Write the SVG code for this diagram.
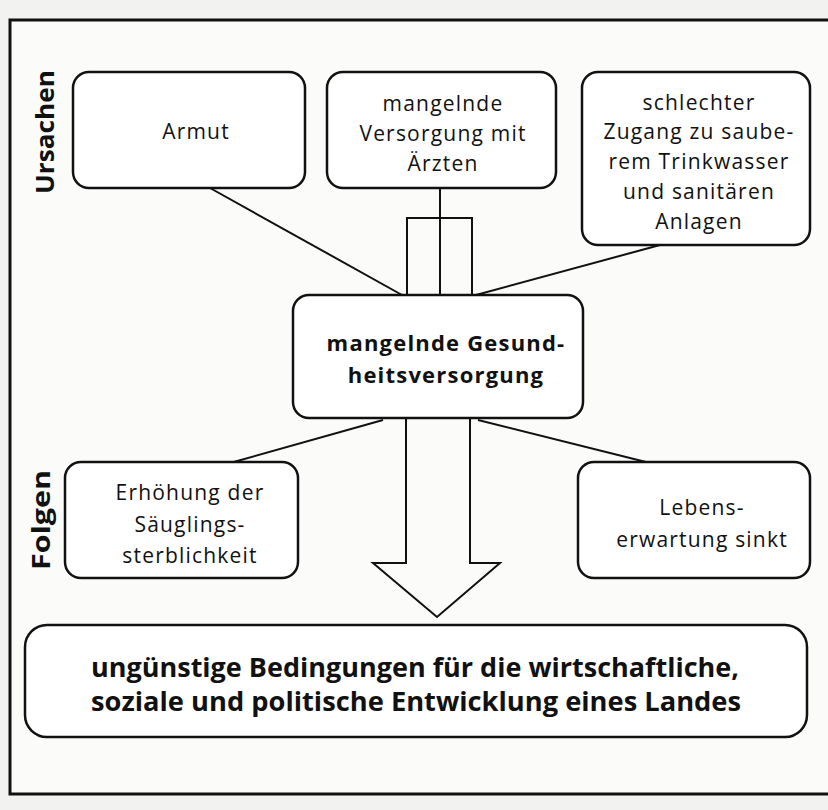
<svg xmlns="http://www.w3.org/2000/svg" width="828" height="810" viewBox="0 0 828 810">
<style>
.box{fill:#fff;stroke:#111;stroke-width:2.5}
.ln{stroke:#111;stroke-width:2;fill:none}
.t{font-family:"Open Sans","Noto Sans",sans-serif;font-size:21px;letter-spacing:1.2px;fill:#111;text-anchor:middle}
.b{font-family:"Open Sans","Noto Sans",sans-serif;font-size:22px;letter-spacing:1.2px;font-weight:bold;fill:#111;text-anchor:middle}
.bb{font-family:"Open Sans","Noto Sans",sans-serif;font-size:27px;font-weight:bold;fill:#111;text-anchor:middle}
.lbl{font-family:"Open Sans","Noto Sans",sans-serif;font-size:25px;font-weight:bold;fill:#111;text-anchor:middle}
</style>
<rect width="828" height="810" fill="#f2f2f0"/>
<rect x="10" y="20" width="830" height="774" fill="#fbfbfa" stroke="#111" stroke-width="3"/>
<text class="lbl" transform="translate(54,132) rotate(-90)" textLength="124" lengthAdjust="spacingAndGlyphs">Ursachen</text>
<text class="lbl" transform="translate(50,520) rotate(-90)" textLength="100" lengthAdjust="spacingAndGlyphs">Folgen</text>
<g id="connectors">
<line class="ln" x1="210" y1="188" x2="402" y2="295"/>
<line class="ln" x1="660" y1="245" x2="476" y2="295"/>
<rect class="ln" x="407" y="218" width="65" height="77" fill="#fff"/>
<line class="ln" x1="440" y1="188" x2="440" y2="295"/>
<line class="ln" x1="383" y1="420" x2="230" y2="463"/>
<line class="ln" x1="478" y1="420" x2="650" y2="463"/>
<polygon class="ln" fill="#fff" points="406,418 470,418 470,563 500,563 437,617 373,563 406,563"/>
</g>
<g id="armut"><rect class="box" x="73" y="72" width="232" height="116" rx="16"/><text class="t" x="196" y="139">Armut</text></g>
<g id="aerzte"><rect class="box" x="327" y="72" width="229" height="116" rx="16"/><text class="t" x="443" y="111">mangelnde</text><text class="t" x="443" y="141">Versorgung mit</text><text class="t" x="443" y="171">Ärzten</text></g>
<g id="wasser"><rect class="box" x="582" y="72" width="228" height="173" rx="16"/><text class="t" x="699" y="110">schlechter</text><text class="t" x="699" y="139">Zugang zu saube-</text><text class="t" x="699" y="169">rem Trinkwasser</text><text class="t" x="699" y="199">und sanitären</text><text class="t" x="699" y="229">Anlagen</text></g>
<g id="gesund"><rect class="box" x="293" y="295" width="290" height="123" rx="16"/><text class="b" x="446" y="351">mangelnde Gesund-</text><text class="b" x="446" y="383">heitsversorgung</text></g>
<g id="saeugling"><rect class="box" x="65" y="462" width="233" height="116" rx="16"/><text class="t" x="190" y="500">Erhöhung der</text><text class="t" x="190" y="532">Säuglings-</text><text class="t" x="190" y="563">sterblichkeit</text></g>
<g id="leben"><rect class="box" x="578" y="462" width="232" height="116" rx="16"/><text class="t" x="702" y="515">Lebens-</text><text class="t" x="702" y="547">erwartung sinkt</text></g>
<g id="folge"><rect class="box" x="25" y="625" width="782" height="112" rx="22" stroke-width="4"/><text class="bb" x="415" y="677" textLength="648" lengthAdjust="spacingAndGlyphs">ungünstige Bedingungen für die wirtschaftliche,</text><text class="bb" x="416" y="711" textLength="650" lengthAdjust="spacingAndGlyphs">soziale und politische Entwicklung eines Landes</text></g>
</svg>
